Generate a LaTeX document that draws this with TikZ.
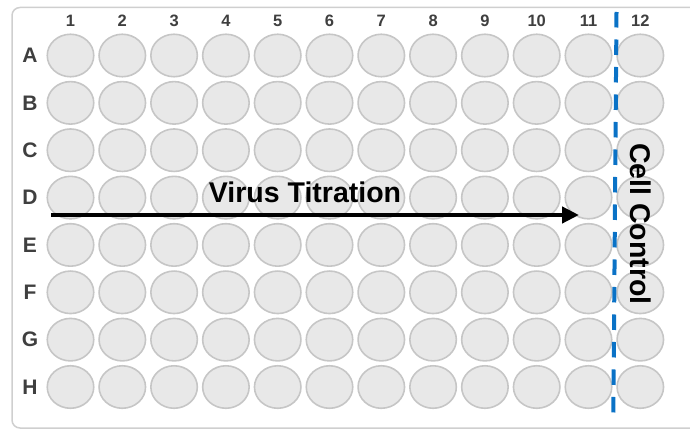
\documentclass[tikz,border=0pt]{standalone}
\usepackage{fontspec}
\setmainfont{Liberation Sans}
\usetikzlibrary{arrows.meta,shapes.geometric}
\definecolor{wellfill}{HTML}{E8E8E8}
\definecolor{welldraw}{HTML}{C6C6C6}
\definecolor{platedraw}{HTML}{CFCFCF}
\definecolor{labelgray}{HTML}{3F3F3F}
\definecolor{divblue}{HTML}{0A72C6}
\tikzset{
  well/.style={ellipse, draw=welldraw, fill=wellfill, line width=1.6pt, minimum width=46.5pt, minimum height=42.5pt, inner sep=0pt},
  collabel/.style={text=labelgray, font=\bfseries\fontsize{16.5}{18}\selectfont, inner sep=0pt},
  rowlabel/.style={text=labelgray, font=\bfseries\fontsize{21}{24}\selectfont, inner sep=0pt},
  bigtext/.style={text=black, font=\bfseries\fontsize{28.5}{32}\selectfont, inner sep=0pt},
}
\begin{document}
\begin{tikzpicture}[x=1pt,y=-1pt]
\useasboundingbox (0,0) rectangle (690,430);
\clip (0,0) rectangle (690,430);
\draw[platedraw, line width=1.5pt, rounded corners=8pt] (12,7.5) rectangle (720,428);
\foreach \c in {1,...,12} {
  \node[collabel] (col\c) at ({70.5+(\c-1)*51.8},21) {\c};
}
\foreach \r [count=\i from 0] in {A,B,C,D,E,F,G,H} {
  \node[rowlabel] (row\r) at (30,{55.5+\i*47.36}) {\r};
  \foreach \c in {1,...,12} {
    \node[well] (w\r\c) at ({70.5+(\c-1)*51.8},{55.5+\i*47.36}) {};
  }
}
\coordinate (dtop) at (616.5,12);
\coordinate (dbot) at (613.3,421);
\draw[divblue, line width=4pt, dash pattern=on 15.5pt off 12pt] (dtop) -- (dbot);
\coordinate (as) at (51,215);
\coordinate (ae) at (579,215);
\draw[line width=4.8pt, -{Triangle[length=17pt,width=16pt]}] (as) -- (ae);
\node[bigtext, anchor=base] (vt) at (305,203) {Virus Titration};
\node[bigtext, anchor=base, rotate=-90] (cc) at (630,224) {Cell Control};
\end{tikzpicture}
\end{document}
